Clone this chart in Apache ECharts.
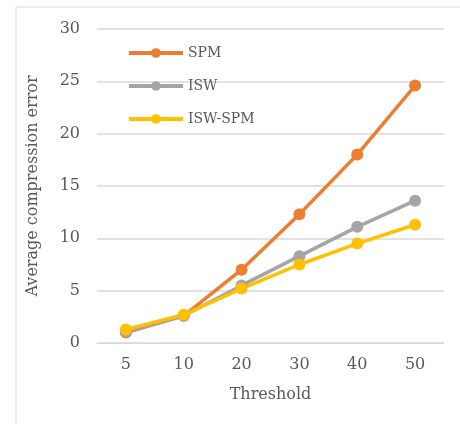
<!DOCTYPE html>
<html>
<head>
<meta charset="utf-8">
<script src="https://cdn.jsdelivr.net/npm/echarts@6/dist/echarts.min.js"></script>
<style>
  html, body { margin: 0; padding: 0; background: #fff; }
  #chart { width: 460px; height: 424px; }
</style>
</head>
<body>
<div id="chart"></div>
<script>
// Threshold categories and average compression error per method
const thresholds = ['5', '10', '20', '30', '40', '50'];
const spm = [1.0, 2.6, 7.0, 12.3, 18.0, 24.6];
const isw = [1.1, 2.6, 5.5, 8.3, 11.1, 13.6];
const iswSpm = [1.3, 2.7, 5.2, 7.5, 9.5, 11.3];
const yTicks = [0, 5, 10, 15, 20, 25, 30];

const textColor = '#595959';
const fontFamily = '"DejaVu Serif", "Liberation Serif", serif';

function lineSeries(name, data, color) {
  return {
    name: name,
    type: 'line',
    data: data,
    symbol: 'circle',
    symbolSize: 12,
    itemStyle: { color: color },
    lineStyle: { color: color, width: 3.5 },
    emphasis: { disabled: true }
  };
}

const chart = echarts.init(document.getElementById('chart'), null, { renderer: 'canvas' });
chart.setOption({
  animation: false,
  backgroundColor: '#fff',
  textStyle: { fontFamily: fontFamily, color: textColor },
  graphic: [{
    type: 'rect',
    shape: { x: 16, y: 7, width: 500, height: 500 },
    style: { fill: 'none', stroke: '#D9D9D9', lineWidth: 1 },
    silent: true,
    z: -1
  }],
  grid: { left: 97, right: 16, top: 29, bottom: 81 },
  legend: {
    orient: 'vertical',
    left: 122,
    top: 41,
    itemWidth: 54,
    itemHeight: 12,
    itemGap: 19,
    itemStyle: { borderWidth: 0 },
    lineStyle: { width: 4 },
    textStyle: { fontFamily: fontFamily, color: textColor, fontSize: 14 },
    data: ['SPM', 'ISW', 'ISW-SPM']
  },
  xAxis: {
    type: 'category',
    data: thresholds,
    boundaryGap: true,
    name: 'Threshold',
    nameLocation: 'middle',
    nameGap: 44,
    nameTextStyle: { fontFamily: fontFamily, color: textColor, fontSize: 16 },
    axisLine: { show: true, lineStyle: { color: '#D9D9D9' } },
    axisTick: { show: false },
    axisLabel: { color: textColor, fontSize: 16, margin: 14, fontFamily: fontFamily }
  },
  yAxis: {
    type: 'value',
    min: yTicks[0],
    max: yTicks[yTicks.length - 1],
    interval: 5,
    name: 'Average compression error',
    nameLocation: 'middle',
    nameGap: 56,
    nameTextStyle: { fontFamily: fontFamily, color: textColor, fontSize: 16 },
    axisLine: { show: false },
    axisTick: { show: false },
    axisLabel: { color: textColor, fontSize: 16, margin: 17, fontFamily: fontFamily },
    splitLine: { lineStyle: { color: '#D9D9D9', width: 1.5 } }
  },
  series: [
    lineSeries('SPM', spm, '#ED7D31'),
    lineSeries('ISW', isw, '#A5A5A5'),
    lineSeries('ISW-SPM', iswSpm, '#FFC000')
  ]
});
</script>
</body>
</html>
